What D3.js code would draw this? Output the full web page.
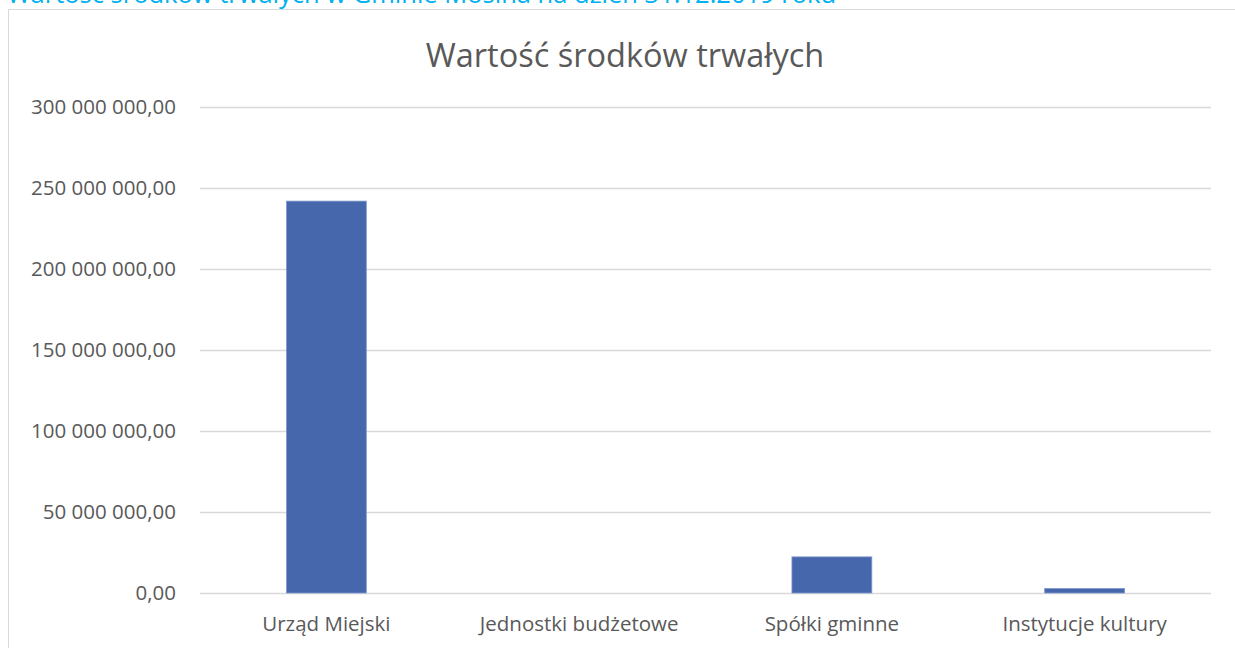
<!DOCTYPE html>
<html>
<head>
<meta charset="utf-8">
<script src="https://cdn.jsdelivr.net/npm/d3@7"></script>
<style>
  html, body { margin:0; padding:0; background:#fff; overflow:hidden; }
  text { font-family: "Open Sans", "Noto Sans", sans-serif; }
</style>
</head>
<body>
<div id="chart"></div>
<script>
// values
const categories = ["Urząd Miejski", "Jednostki budżetowe", "Spółki gminne", "Instytucje kultury"]
const values     = [241900000, 0, 22300000, 2800000]
const yTicks     = [0, 50000000, 100000000, 150000000, 200000000, 250000000, 300000000]
const pageTitle  = "Wartość środków trwałych w Gminie Mosina na dzień 31.12.2019 roku"
const chartTitle = "Wartość środków trwałych"

const data = categories.map((c, i) => ({ name: c, value: values[i] }))

let width = 1235, height = 648,
    margin = { top:107, left:200, right:24, bottom:55 },
    innerWidth = width - margin.left - margin.right,
    innerHeight = height - margin.top - margin.bottom

let svg = d3.select("#chart").append("svg")
  .attr("width", width).attr("height", height)

// page heading, cut by the top edge like in the source
svg.append("text")
  .attr("x", 7).attr("y", 3)
  .attr("fill", "#00b0f0")
  .style("font-size", "25.5px")
  .text(pageTitle)

// chart frame (left and top edges, the rest runs off the page)
svg.append("path")
  .attr("d", `M8.5,${height} V9.5 H${width}`)
  .attr("fill", "none").attr("stroke", "#d9d9d9")

svg.append("text")
  .attr("x", 625).attr("y", 67)
  .attr("text-anchor", "middle")
  .attr("fill", "#595959")
  .style("font-size", "32.5px")
  .text(chartTitle)

let g = svg.append("g").attr("transform", `translate(${margin.left},${margin.top})`)

let xScale = d3.scaleBand().domain(categories).range([0, innerWidth]).paddingInner(0.684).paddingOuter(0.342)
let yScale = d3.scaleLinear().domain([0, 300000000]).range([innerHeight, 0])

const fmt = v => d3.format(",.2f")(v).replace(/,/g, " ").replace(".", ",")

let yAxis = d3.axisLeft(yScale).tickValues(yTicks).tickSize(-innerWidth).tickPadding(24).tickFormat(fmt)
let yGroup = g.append("g").call(yAxis)
yGroup.select(".domain").remove()
yGroup.selectAll(".tick line").attr("stroke", "#d9d9d9").attr("stroke-width", 1.3)
yGroup.selectAll(".tick text").attr("fill", "#595959").style("font-size", "20.5px")

g.selectAll("rect.bar")
  .data(data)
  .enter()
  .append("rect")
  .attr("class", "bar")
  .attr("x", d => xScale(d.name))
  .attr("y", d => yScale(d.value))
  .attr("width", xScale.bandwidth())
  .attr("height", d => innerHeight - yScale(d.value))
  .attr("fill", "#4767ad")
  .attr("stroke", "#7d97cc")
  .attr("stroke-width", 0.8)

let xAxis = d3.axisBottom(xScale).tickSize(0).tickPadding(23)
let xGroup = g.append("g").attr("transform", `translate(0,${innerHeight})`).call(xAxis)
xGroup.select(".domain").remove()
xGroup.selectAll(".tick text").attr("fill", "#595959").style("font-size", "20.5px")
</script>
</body>
</html>
